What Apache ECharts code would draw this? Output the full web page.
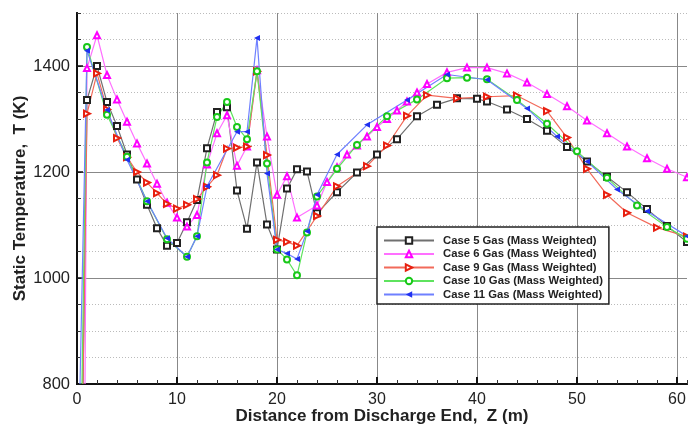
<!DOCTYPE html>
<html>
<head>
<meta charset="utf-8">
<title>Static Temperature</title>
<style>
  html, body { margin: 0; padding: 0; background: #fff; }
  #chart { width: 688px; height: 431px; }
</style>
</head>
<body>
<div id="chart"></div>
<script src="https://cdn.jsdelivr.net/npm/echarts@6/dist/echarts.min.js"></script>
<script>
// values: distance Z (m) and temperature T (K)
var case5Z = [0.6, 1, 2, 3, 4, 5, 6, 7, 8, 9, 10, 11, 12, 13, 14, 15, 16, 17, 18, 19, 20, 21, 22, 23, 24,
              26, 28, 30, 32, 34, 36, 38, 40, 41, 43, 45, 47, 49, 51, 53, 55, 57, 59, 61];
var case5T = [800, 1336, 1400, 1332, 1287, 1233, 1186, 1138, 1094, 1061, 1066, 1105, 1147, 1245, 1313, 1322, 1165, 1093, 1218, 1101, 1054, 1169, 1205, 1201, 1122,
              1162, 1199, 1233, 1262, 1305, 1327, 1339, 1338, 1333, 1318, 1300, 1278, 1247, 1220, 1191, 1162, 1130, 1098, 1068];

var case6Z = [0.8, 1, 2, 3, 4, 5, 6, 7, 8, 9, 10, 11, 12, 13, 14, 15, 16, 17, 18, 19, 20, 21, 22,
              24, 25, 26, 27, 28, 29, 30, 31, 32, 33, 34, 35,
              37, 39, 41, 43, 45, 47, 49, 51, 53, 55, 57, 59, 61];
var case6T = [800, 1396, 1458, 1383, 1337, 1295, 1254, 1216, 1178, 1142, 1114, 1097, 1119, 1214, 1273, 1307, 1212, 1248, 1392, 1267, 1157, 1192, 1114,
              1137, 1181, 1209, 1233, 1250, 1267, 1285, 1300, 1316, 1333, 1350, 1366,
              1388, 1397, 1397, 1386, 1369, 1347, 1324, 1297, 1273, 1248, 1226, 1206, 1190];

var case9Z = [0.6, 1, 2, 3, 4, 5, 6, 7, 8, 9, 10, 11, 12, 13, 14, 15, 16, 17, 18, 19, 20, 21, 22,
              24, 26, 29, 31, 33, 35, 38, 41, 44, 47, 49, 51, 53, 55, 58, 61];
var case9T = [800, 1310, 1386, 1318, 1264, 1228, 1200, 1180, 1160, 1140, 1131, 1138, 1149, 1172, 1194, 1244, 1246, 1248, 1390, 1232, 1072, 1068, 1061,
              1117, 1173, 1211, 1250, 1306, 1345, 1339, 1342, 1344, 1315, 1265, 1206, 1157, 1123, 1095, 1078];

var case10Z = [0.5, 1, 3, 5, 7, 9, 11, 12, 13, 14, 15, 16, 17, 18, 19, 20, 21, 22, 23, 24,
               26, 28, 31, 34, 37, 39, 41, 44, 47, 50, 53, 56, 59, 61];
var case10T = [800, 1436, 1308, 1229, 1145, 1073, 1040, 1079, 1218, 1304, 1332, 1285, 1262, 1390, 1216, 1054, 1035, 1005, 1086, 1154,
               1206, 1251, 1305, 1337, 1377, 1378, 1375, 1336, 1291, 1239, 1189, 1137, 1096, 1074];

var case11Z = [0.3, 1, 3, 5, 7, 9, 11, 12, 13, 16, 17, 18, 19, 20, 21, 22, 23, 24,
               26, 29, 33, 37, 41, 45, 48, 51, 54, 57, 61];
var case11T = [800, 1429, 1317, 1223, 1145, 1075, 1040, 1079, 1173, 1276, 1276, 1453, 1197, 1054, 1046, 1036, 1088, 1157,
               1233, 1289, 1336, 1384, 1374, 1320, 1267, 1220, 1167, 1126, 1079];

var seriesNames = ['Case 5 Gas (Mass Weighted)', 'Case 6 Gas (Mass Weighted)', 'Case 9 Gas (Mass Weighted)',
                   'Case 10 Gas (Mass Weighted)', 'Case 11 Gas (Mass Weighted)'];

// [z, t] points; the point where a curve leaves the axis floor gets no marker
function pairs(zs, ts) {
    var out = [];
    for (var i = 0; i < zs.length; i++) {
        if (ts[i] <= 800) out.push({ value: [zs[i], ts[i]], symbol: 'none' });
        else out.push([zs[i], ts[i]]);
    }
    return out;
}

var FONT = "'Liberation Sans', Arial, sans-serif";

function lineSeries(name, data, symbol, rotate, markColor, lineColor) {
    return {
        name: name,
        type: 'line',
        xAxisIndex: 0,
        yAxisIndex: 0,
        data: data,
        symbol: symbol,
        symbolSize: 6,
        symbolRotate: rotate,
        showAllSymbol: true,
        itemStyle: { color: markColor, borderWidth: 1.2 },
        lineStyle: { color: lineColor, width: 1.2 },
        emphasis: { disabled: true }
    };
}

var chart = echarts.init(document.getElementById('chart'));
chart.setOption({
    animation: false,
    backgroundColor: '#fff',
    grid: { left: 77, right: 1, top: 13, bottom: 47, outerBoundsMode: 'none' },
    legend: {
        orient: 'vertical',
        left: 377,
        top: 227,
        backgroundColor: '#fff',
        borderColor: '#222',
        borderWidth: 1.5,
        borderRadius: 0,
        padding: [7, 6, 3, 6],
        itemWidth: 50,
        itemHeight: 8,
        itemGap: 0.5,
        data: seriesNames,
        textStyle: {
            fontFamily: FONT, fontWeight: 'bold', fontSize: 11.3, color: '#222',
            lineHeight: 13, padding: [0, 0, 0, 4]
        }
    },
    xAxis: [{
        type: 'value', min: 0, max: 61, interval: 2, position: 'bottom',
        axisLine: { onZero: false, lineStyle: { color: '#111', width: 2 } },
        axisTick: { inside: true, length: 4, lineStyle: { color: '#333', width: 1 } },
        axisLabel: { show: false },
        splitLine: { show: false }
    }, {
        type: 'value', min: 0, max: 61, interval: 10, position: 'bottom',
        name: 'Distance from Discharge End,  Z (m)',
        nameLocation: 'middle',
        nameGap: 24,
        nameMoveOverlap: false,
        nameTextStyle: { fontFamily: FONT, fontWeight: 'bold', fontSize: 17, color: '#222' },
        axisLine: { onZero: false, lineStyle: { color: '#111', width: 2 } },
        axisTick: { inside: true, length: 7, lineStyle: { color: '#111', width: 2 } },
        axisLabel: { fontFamily: FONT, fontSize: 16, color: '#222', margin: 8, showMaxLabel: false },
        splitLine: { show: true, showMinLine: false, showMaxLine: false, lineStyle: { color: '#888', width: 1 } }
    }],
    yAxis: [{
        type: 'value', min: 800, max: 1500, interval: 50,
        axisLine: { onZero: false, lineStyle: { color: '#111', width: 2 } },
        axisTick: { inside: true, length: 4, lineStyle: { color: '#333', width: 1 } },
        axisLabel: { show: false },
        splitLine: { show: true, lineStyle: { color: '#bbb', width: 1, type: [1, 2] } }
    }, {
        type: 'value', min: 800, max: 1500, interval: 200, position: 'left',
        name: 'Static Temperature,  T (K)',
        nameLocation: 'middle',
        nameGap: 48,
        nameMoveOverlap: false,
        nameTextStyle: { fontFamily: FONT, fontWeight: 'bold', fontSize: 17, color: '#222' },
        axisLine: { onZero: false, lineStyle: { color: '#111', width: 2 } },
        axisTick: { inside: true, length: 6, lineStyle: { color: '#111', width: 1.5 } },
        axisLabel: {
            fontFamily: FONT, fontSize: 16.5, color: '#222', margin: 7, showMaxLabel: false,
            formatter: function (v) { return String(v); }
        },
        splitLine: { show: true, showMinLine: false, showMaxLine: false, lineStyle: { color: '#888', width: 1 } }
    }],
    series: [
        lineSeries(seriesNames[0], pairs(case5Z, case5T), 'emptyRect', 0, '#222', '#707070'),
        lineSeries(seriesNames[1], pairs(case6Z, case6T), 'emptyTriangle', 0, '#ff00ff', '#ff70ff'),
        lineSeries(seriesNames[2], pairs(case9Z, case9T), 'emptyTriangle', -90, '#e82010', '#f26a5a'),
        lineSeries(seriesNames[3], pairs(case10Z, case10T), 'emptyCircle', 0, '#18c818', '#5ee35e'),
        lineSeries(seriesNames[4], pairs(case11Z, case11T), 'triangle', 90, '#2030f0', '#6f80ff')
    ]
});
</script>
</body>
</html>
